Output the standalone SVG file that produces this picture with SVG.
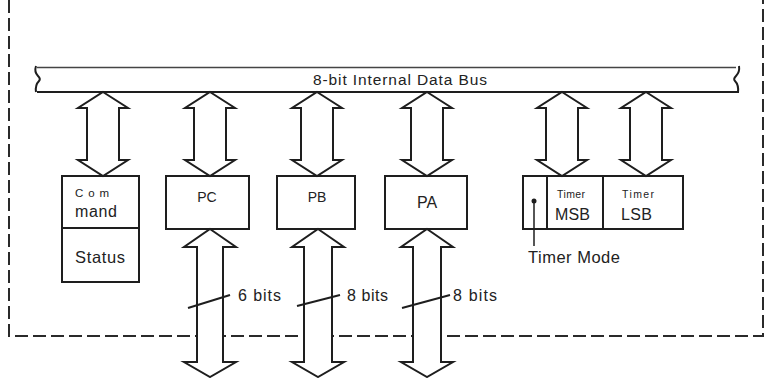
<svg xmlns="http://www.w3.org/2000/svg" width="766" height="378" viewBox="0 0 766 378">
<style>
.ln{fill:none;stroke:#1e1e1e;stroke-width:2}
.box{fill:#fff;stroke:#1e1e1e;stroke-width:2}
.arr{fill:#fff;stroke:#1e1e1e;stroke-width:2;stroke-linejoin:miter}
.t{font-family:"Liberation Sans",Arial,sans-serif;fill:#222}
.dash{fill:none;stroke:#2a2a2a;stroke-width:2;stroke-dasharray:13,5}
</style>
<rect width="766" height="378" fill="#fff"/>
<g id="frame">
<path class="dash" d="M9,0 L9,336 L763,336 L763,0" stroke-width="1.8"/>
</g>
<g id="bus">
<path d="M37,67.5 L736,67.5" stroke="#444" stroke-width="1.3" fill="none"/>
<path d="M37,92 L738,92" class="ln" stroke-width="2.4"/>
<path class="ln" stroke-width="1.5" d="M36,66 Q34,72 38,76 Q41,79 39,81 Q35,85 36,92"/>
<path class="ln" stroke-width="1.5" d="M739,66 Q740,72 736,76 Q733,79 735,81 Q739,85 738,93"/>
<text class="t" x="400" y="85" font-size="15.5" text-anchor="middle" textLength="174">8-bit Internal Data Bus</text>
</g>
<g id="cmd">
<rect class="box" x="62" y="176" width="77" height="106"/>
<line class="ln" x1="62" y1="228" x2="139" y2="228"/>
<text class="t" x="75" y="197" font-size="11.5" textLength="34">Com</text>
<text class="t" x="75" y="217" font-size="16" textLength="42">mand</text>
<text class="t" x="75" y="263" font-size="16.5" textLength="50">Status</text>
</g>
<g id="pc">
<rect class="box" x="166" y="176" width="83" height="53"/>
<text class="t" x="207" y="202" font-size="14" text-anchor="middle" fill="#444">PC</text>
</g>
<g id="pb">
<rect class="box" x="277" y="176" width="78" height="53"/>
<text class="t" x="317" y="202" font-size="14" text-anchor="middle" fill="#444">PB</text>
</g>
<g id="pa">
<rect class="box" x="385" y="176" width="82" height="53"/>
<text class="t" x="427" y="208" font-size="16" text-anchor="middle">PA</text>
</g>
<g id="timer">
<rect class="box" x="523" y="176" width="160" height="53"/>
<line class="ln" x1="547" y1="176" x2="547" y2="229"/>
<line class="ln" x1="603" y1="176" x2="603" y2="229"/>
<text class="t" x="557" y="198" font-size="10.5" textLength="28">Timer</text>
<text class="t" x="555" y="220" font-size="16" textLength="35">MSB</text>
<text class="t" x="622" y="198" font-size="10.5" textLength="32">Timer</text>
<text class="t" x="621" y="220" font-size="16" textLength="31">LSB</text>
<circle cx="534" cy="201" r="2.5" fill="#1e1e1e"/>
<line x1="534" y1="201" x2="534" y2="246" stroke="#1e1e1e" stroke-width="1.5"/>
<text class="t" x="528" y="263" font-size="16.5" textLength="92">Timer Mode</text>
</g>
<g id="connectors">
<path class="arr" d="M103,92 L128,108 L119,108 L119,160 L128,160 L103,176 L78,160 L87,160 L87,108 L78,108 Z"/>
<path class="arr" d="M210,92 L235,108 L226,108 L226,160 L235,160 L210,176 L185,160 L194,160 L194,108 L185,108 Z"/>
<path class="arr" d="M317,92 L342,108 L333,108 L333,160 L342,160 L317,176 L292,160 L301,160 L301,108 L292,108 Z"/>
<path class="arr" d="M427,92 L452,108 L443,108 L443,160 L452,160 L427,176 L402,160 L411,160 L411,108 L402,108 Z"/>
<path class="arr" d="M562,92 L587,108 L578,108 L578,160 L587,160 L562,176 L537,160 L546,160 L546,108 L537,108 Z"/>
<path class="arr" d="M646,92 L671,108 L662,108 L662,160 L671,160 L646,176 L621,160 L630,160 L630,108 L621,108 Z"/>
<path class="arr" d="M210,229 L236,247 L223,247 L223,362 L236,362 L210,377 L184,362 L197,362 L197,247 L184,247 Z"/>
<path class="arr" d="M318,229 L344,247 L332,247 L332,362 L344,362 L318,377 L292,362 L304,362 L304,247 L292,247 Z"/>
<path class="arr" d="M427,229 L453,247 L441,247 L441,362 L453,362 L427,377 L401,362 L413,362 L413,247 L401,247 Z"/>
<line class="ln" stroke-width="1.5" x1="188" y1="308" x2="230" y2="295"/>
<line class="ln" stroke-width="1.5" x1="297" y1="306" x2="340" y2="295"/>
<line class="ln" stroke-width="1.5" x1="402" y1="308" x2="450" y2="295"/>
<text class="t" x="238" y="301" font-size="16" textLength="43">6 bits</text>
<text class="t" x="347" y="301" font-size="16" textLength="41">8 bits</text>
<text class="t" x="453" y="301" font-size="16" textLength="44">8 bits</text>
</g>
</svg>
